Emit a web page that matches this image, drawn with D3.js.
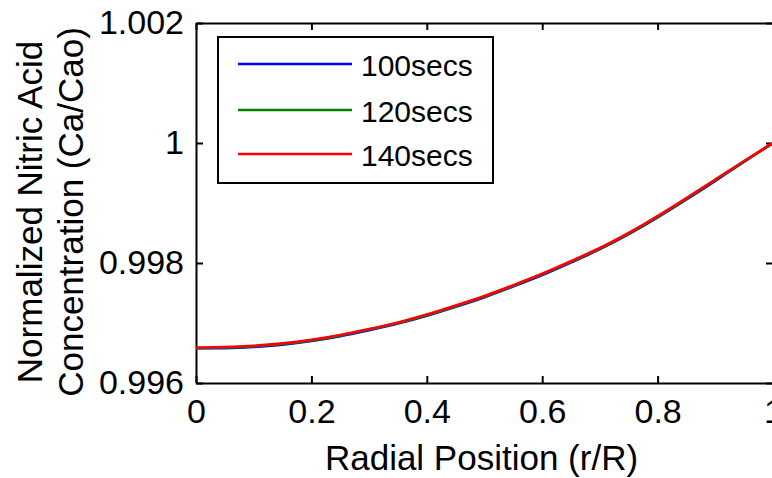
<!DOCTYPE html>
<html>
<head>
<meta charset="utf-8">
<script src="https://d3js.org/d3.v7.min.js"></script>
<style>
  html, body { margin: 0; padding: 0; background: #fff; }
  svg { display: block; }
  text { font-family: "Liberation Sans", Arial, sans-serif; fill: #000; }
</style>
</head>
<body>
<svg id="chart" width="772" height="478"></svg>
<script>
// Radial positions (r/R) where the concentration profiles are sampled
const radialPos = [0, 0.05, 0.10, 0.15, 0.20, 0.25, 0.30, 0.35, 0.40, 0.45, 0.50,
                   0.55, 0.60, 0.65, 0.70, 0.75, 0.80, 0.85, 0.90, 0.95, 1.00];

// Normalized nitric acid concentration (Ca/Cao) at each time
const conc100 = [0.99658, 0.99658, 0.99660, 0.99664, 0.99670, 0.99678, 0.99688, 0.99699,
                 0.99712, 0.99727, 0.99743, 0.99761, 0.99780, 0.99801, 0.99823, 0.99848,
                 0.99876, 0.99906, 0.99937, 0.99969, 1.00000];
const conc120 = [0.99658, 0.99659, 0.99661, 0.99665, 0.99671, 0.99679, 0.99689, 0.99700,
                 0.99713, 0.99728, 0.99744, 0.99762, 0.99781, 0.99802, 0.99824, 0.99849,
                 0.99877, 0.99907, 0.99938, 0.99969, 1.00000];
const conc140 = [0.99659, 0.99660, 0.99662, 0.99666, 0.99672, 0.99680, 0.99690, 0.99701,
                 0.99714, 0.99729, 0.99745, 0.99763, 0.99782, 0.99803, 0.99825, 0.99850,
                 0.99878, 0.99908, 0.99939, 0.99970, 1.00000];

const seriesNames = ["100secs", "120secs", "140secs"];
const seriesColors = ["#0000ff", "#008000", "#ff0000"];

const xTicks = [0, 0.2, 0.4, 0.6, 0.8, 1];
const yTicks = [0.996, 0.998, 1, 1.002];

const xTitle = "Radial Position (r/R)";
const yTitleLines = ["Normalized Nitric Acid", "Concentration (Ca/Cao)"];

const svg = d3.select("#chart");

const plot = { left: 196, right: 773, top: 23, bottom: 383 };

const x = d3.scaleLinear().domain([0, 1]).range([plot.left, plot.right]);
const y = d3.scaleLinear().domain([0.996, 1.002]).range([plot.bottom, plot.top]);

const tickLen = 7;
const fmt = d => String(d);

// Axes box: ticks point inward on all four sides
const axisStyle = g => {
  g.select(".domain").attr("stroke", "#000").attr("stroke-width", 2);
  g.selectAll(".tick line").attr("stroke", "#000").attr("stroke-width", 2);
  g.selectAll(".tick text")
    .style("font-family", "'Liberation Sans', Arial, sans-serif")
    .style("font-size", "34px")
    .attr("fill", "#000");
};

svg.append("g")
  .attr("transform", `translate(0,${plot.bottom})`)
  .call(d3.axisBottom(x).tickValues(xTicks).tickFormat(fmt)
        .tickSizeInner(-tickLen).tickSizeOuter(0).tickPadding(16))
  .call(axisStyle);

svg.append("g")
  .attr("transform", `translate(0,${plot.top})`)
  .call(d3.axisTop(x).tickValues(xTicks).tickFormat("")
        .tickSizeInner(-tickLen).tickSizeOuter(0))
  .call(axisStyle);

svg.append("g")
  .attr("transform", `translate(${plot.left},0)`)
  .call(d3.axisLeft(y).tickValues(yTicks).tickFormat(fmt)
        .tickSizeInner(-tickLen).tickSizeOuter(0).tickPadding(12))
  .call(axisStyle);

svg.append("g")
  .attr("transform", `translate(${plot.right},0)`)
  .call(d3.axisRight(y).tickValues(yTicks).tickFormat("")
        .tickSizeInner(-tickLen).tickSizeOuter(0))
  .call(axisStyle);

// Concentration profiles
const seriesData = [conc100, conc120, conc140];
const line = d3.line()
  .x((d, i) => x(radialPos[i]))
  .y(d => y(d))
  .curve(d3.curveNatural);

svg.append("defs").append("clipPath").attr("id", "plotClip")
  .append("rect")
  .attr("x", plot.left).attr("y", plot.top)
  .attr("width", plot.right - plot.left).attr("height", plot.bottom - plot.top);

svg.append("g").attr("clip-path", "url(#plotClip)")
  .selectAll("path")
  .data(seriesData)
  .join("path")
  .attr("d", line)
  .attr("fill", "none")
  .attr("stroke", (d, i) => seriesColors[i])
  .attr("stroke-width", 2.6);

// Axis titles
svg.append("text")
  .attr("x", (plot.left + plot.right) / 2 - 3)
  .attr("y", 470)
  .attr("text-anchor", "middle")
  .style("font-size", "35px")
  .text(xTitle);

const yTitle = svg.append("g").attr("transform", "translate(42,212) rotate(-90)");
yTitle.selectAll("text")
  .data(yTitleLines)
  .join("text")
  .attr("x", 0)
  .attr("y", (d, i) => i * 41)
  .attr("text-anchor", "middle")
  .style("font-size", "35px")
  .text(d => d);

// Legend
const legend = { left: 218, top: 37, right: 493, bottom: 183 };
svg.append("rect")
  .attr("x", legend.left).attr("y", legend.top)
  .attr("width", legend.right - legend.left)
  .attr("height", legend.bottom - legend.top)
  .attr("fill", "#fff")
  .attr("stroke", "#000")
  .attr("stroke-width", 2);

const legendRowY = [64, 110, 154];
const items = svg.append("g").selectAll("g")
  .data(seriesNames)
  .join("g")
  .attr("transform", (d, i) => `translate(0,${legendRowY[i]})`);

items.append("line")
  .attr("x1", 238).attr("x2", 352)
  .attr("y1", 0).attr("y2", 0)
  .attr("stroke", (d, i) => seriesColors[i])
  .attr("stroke-width", 2.4);

items.append("text")
  .attr("x", 361)
  .attr("y", 12)
  .style("font-size", "30px")
  .text(d => d);
</script>
</body>
</html>
